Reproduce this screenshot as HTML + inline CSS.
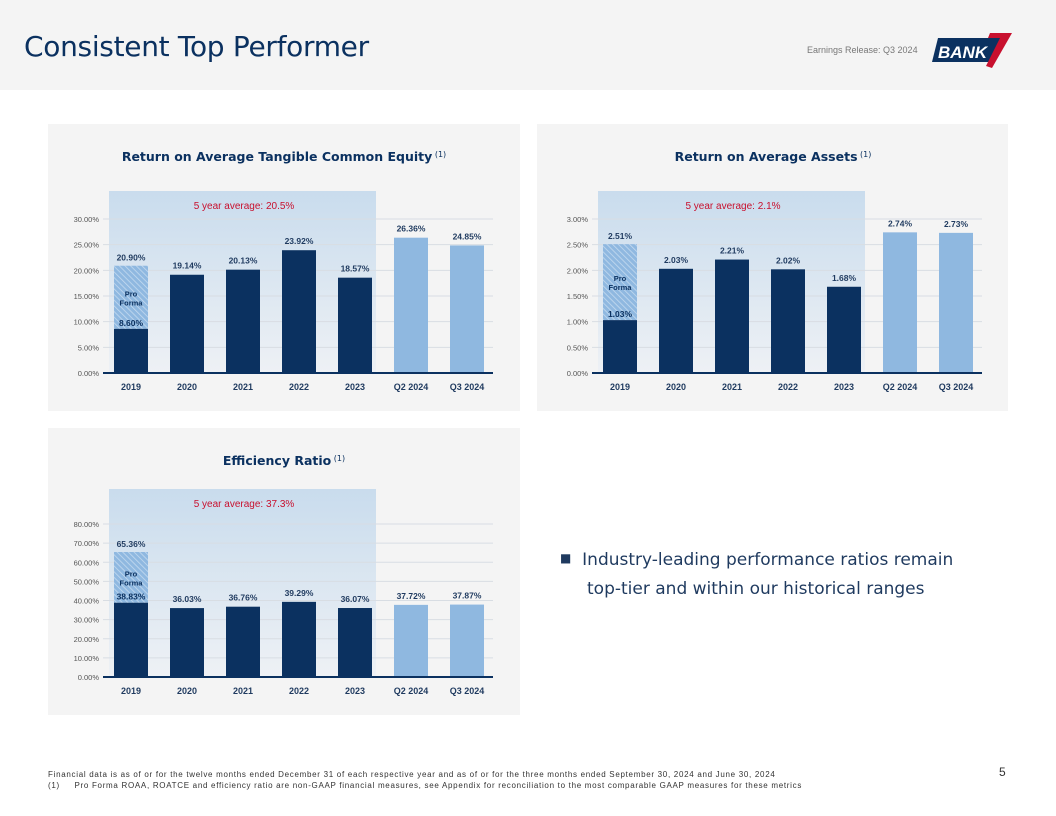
<!DOCTYPE html>
<html><head><meta charset="utf-8"><style>
body{margin:0;width:1056px;height:816px;background:#fff;font-family:"Liberation Sans",sans-serif;position:relative;overflow:hidden}
.hdr{position:absolute;left:0;top:0;width:1056px;height:90px;background:#f4f4f4}
.title{position:absolute;left:24px;top:30px;font-size:28px;color:#0b3160;font-family:"DejaVu Sans","Liberation Sans",sans-serif;letter-spacing:-0.3px}
.er{position:absolute;left:807px;top:45px;font-size:9px;color:#777}
.panel{position:absolute;background:#f4f4f4}
.bul{position:absolute;left:560px;top:546px;font-size:17px;color:#1f3a5f;line-height:28px;font-family:"DejaVu Sans","Liberation Sans",sans-serif}
.foot{position:absolute;left:48px;font-size:8px;color:#333;letter-spacing:0.7px;white-space:nowrap}
</style></head><body>
<div class="hdr"></div>
<div class="title">Consistent Top Performer</div>
<div class="er">Earnings Release: Q3 2024</div>
<svg style="position:absolute;left:930px;top:30px" width="85" height="40">
<polygon points="8,8 72,8 64,32 2,32" fill="#0b3160"/>
<polygon points="60,3 82,3 62,38 56,36 70,8 58,8" fill="#c8102e"/>
<text x="8" y="28" font-size="17" font-weight="bold" font-style="italic" fill="#fff" font-family="Liberation Sans,sans-serif">BANK</text>
</svg>
<div class="panel" style="left:48px;top:124px;width:472px;height:287px"></div>
<div class="panel" style="left:537px;top:124px;width:471px;height:287px"></div>
<div class="panel" style="left:48px;top:428px;width:472px;height:287px"></div>
<svg id="c" width="1056" height="816" style="position:absolute;left:0;top:0">
<defs>
<pattern id="hatch" width="4" height="4" patternUnits="userSpaceOnUse" patternTransform="rotate(-45)"><rect width="4" height="4" fill="#8fb8e0"/><line x1="0" y1="0" x2="0" y2="4" stroke="#c8dcf0" stroke-width="1.5"/></pattern>
<linearGradient id="band" x1="0" y1="0" x2="0" y2="1"><stop offset="0" stop-color="#c9dced"/><stop offset="1" stop-color="#eef1f5"/></linearGradient>
</defs>
</svg>
<div class="bul"><span style="font-size:12px;position:relative;top:-3px">■</span>&nbsp; Industry-leading performance ratios remain<br>&nbsp;&nbsp;&nbsp;&nbsp; top-tier and within our historical ranges</div>
<div class="foot" style="top:770px">Financial data is as of or for the twelve months ended December 31 of each respective year and as of or for the three months ended September 30, 2024 and June 30, 2024</div>
<div class="foot" style="top:781px">(1)&nbsp;&nbsp;&nbsp;&nbsp; Pro Forma ROAA, ROATCE and efficiency ratio are non-GAAP financial measures, see Appendix for reconciliation to the most comparable GAAP measures for these metrics</div>
<div style="position:absolute;left:999px;top:765px;font-size:12px;color:#333">5</div>
<script>
const categories=["2019","2020","2021","2022","2023","Q2 2024","Q3 2024"];
const rotceValues=[8.60,19.14,20.13,23.92,18.57,26.36,24.85];
const rotceProForma=20.90;
const roaaValues=[1.03,2.03,2.21,2.02,1.68,2.74,2.73];
const roaaProForma=2.51;
const effValues=[38.83,36.03,36.76,39.29,36.07,37.72,37.87];
const effProForma=65.36;
const rotceTicks=[0,5,10,15,20,25,30];
const roaaTicks=[0,0.5,1,1.5,2,2.5,3];
const effTicks=[0,10,20,30,40,50,60,70,80];
const svg=document.getElementById('c');const NS='http://www.w3.org/2000/svg';
function mk(t,a,txt){const e=document.createElementNS(NS,t);for(const k in a)e.setAttribute(k,a[k]);if(txt!==undefined)e.textContent=txt;svg.appendChild(e);return e;}
function chart(o){
 const {px,py,x0,y0,yTop,max,ticks,vals,pf,title,avg,bandTop,name}=o;
 const sy=v=>y0-(v/max)*(y0-yTop);
 const cx=i=>px+83+i*56;
 let t=mk('text',{x:px+236,y:py+37,'text-anchor':'middle','font-size':12.5,'font-weight':'bold',fill:'#0b3160','font-family':'DejaVu Sans,Liberation Sans,sans-serif'});
 t.textContent=title;
 let s=mk('tspan',{'font-size':8,dy:-4,'font-weight':'normal'},' (1)');t.appendChild(s);
 let b=mk('rect',{x:px+61,y:bandTop,width:267,height:y0-bandTop,fill:'url(#band)'});
 
 let at=mk('text',{x:px+196,y:bandTop+18,'text-anchor':'middle','font-size':10,fill:'#c8102e'},avg);
 
 ticks.forEach(v=>{const y=sy(v);
  if(v>0){const g=mk('line',{x1:x0,x2:x0+390,y1:y,y2:y,stroke:'#d8dde3','stroke-width':1});}
  const l=mk('text',{x:x0-4,y:y+3,'text-anchor':'end','font-size':7.5,fill:'#555'},v.toFixed(2)+'%');
  });
 vals.forEach((v,i)=>{const c=cx(i);const col=i>=5?'#8fb8e0':'#0b3160';
  if(i===0){const h=mk('rect',{x:c-17,y:sy(pf),width:34,height:sy(v)-sy(pf),fill:'url(#hatch)'});
   
   const p1=mk('text',{x:c,y:(sy(pf)+sy(v))/2-1,'text-anchor':'middle','font-size':7.5,'font-weight':'bold',fill:'#0b3160'},'Pro');
   
   const p2=mk('text',{x:c,y:(sy(pf)+sy(v))/2+8,'text-anchor':'middle','font-size':7.5,'font-weight':'bold',fill:'#0b3160'},'Forma');
   
   const pl=mk('text',{x:c,y:sy(pf)-5,'text-anchor':'middle','font-size':8.5,'font-weight':'bold',fill:'#1f3a5f'},pf.toFixed(2)+'%');
   }
  const r=mk('rect',{x:c-17,y:sy(v),width:34,height:y0-sy(v),fill:col});
  
  const vl=mk('text',{x:c,y:i===0?sy(v)-3:sy(v)-6,'text-anchor':'middle','font-size':8.5,'font-weight':'bold',fill:i===0?'#0b3160':'#1f3a5f'},v.toFixed(2)+'%');
  
  const xl=mk('text',{x:c,y:y0+17,'text-anchor':'middle','font-size':9,'font-weight':'bold',fill:'#1f3a5f'},categories[i]);
  });
 const ax=mk('line',{x1:x0,x2:x0+390,y1:y0,y2:y0,stroke:'#0b3160','stroke-width':2});
 
}
chart({px:48,py:124,x0:103,y0:373,yTop:219,max:30,ticks:rotceTicks,vals:rotceValues,pf:rotceProForma,title:'Return on Average Tangible Common Equity',avg:'5 year average: 20.5%',bandTop:191,name:'rotce'});
chart({px:537,py:124,x0:592,y0:373,yTop:219,max:3,ticks:roaaTicks,vals:roaaValues,pf:roaaProForma,title:'Return on Average Assets',avg:'5 year average: 2.1%',bandTop:191,name:'roaa'});
chart({px:48,py:428,x0:103,y0:677,yTop:524,max:80,ticks:effTicks,vals:effValues,pf:effProForma,title:'Efficiency Ratio',avg:'5 year average: 37.3%',bandTop:489,name:'efficiency'});
</script>
</body></html>
